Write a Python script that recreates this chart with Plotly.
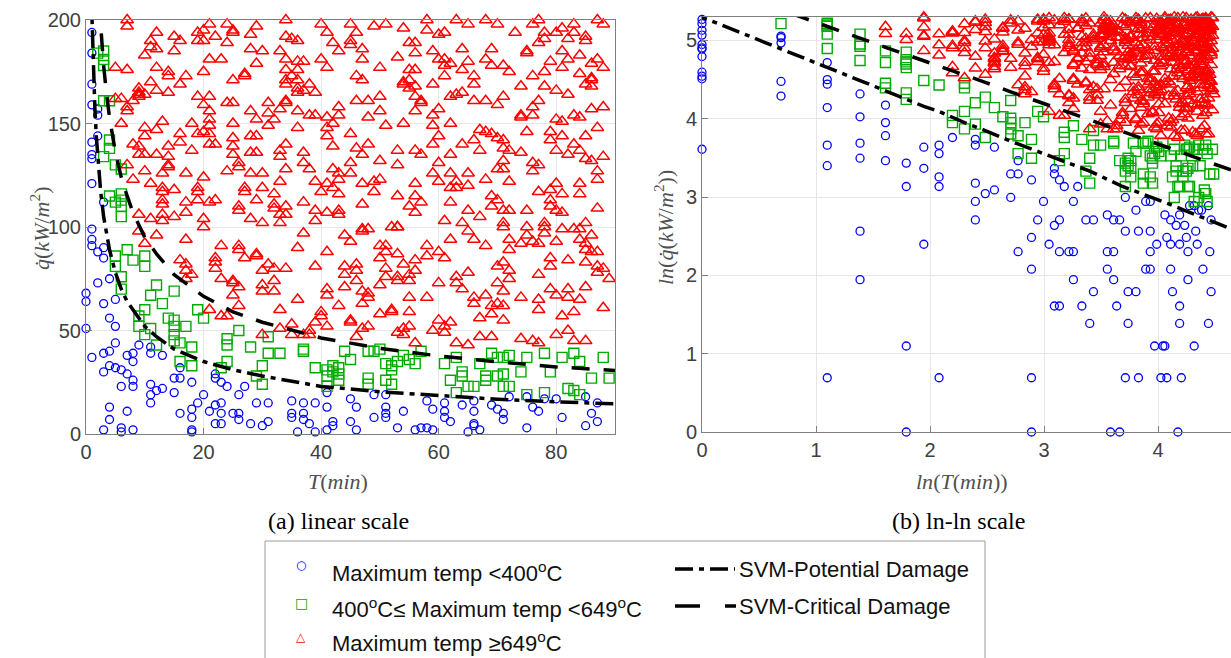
import numpy as np
import plotly.graph_objects as go

# ---------------- data (T in min, q in kW/m^2) ----------------
blue_points = [
    (1,194),(1,184),(1,169),(1,159),(2,157),(2,154),(1,141),(2,144),(1,135),(1,133),(1,121),(3,112),
    (1,99),(1,94),(1,91),(2,88),(3,90),(3,85),(2,73),(4,75),(3,63),(5,65),(0,68),(0,64),(4,56),(5,52),
    (0,51),(5,44),(3,39),(4,40),(1,37),(4,33),(5,32),(3,30),(6,31),(7,29),(7,38),(8,39),(8,35),(9,43),
    (11,42),(11,39),(13,38),(6,23),(8,26),(8,23),(11,24),(13,22),(12,21),(11,19),(11,15),(15,20),(15,27),
    (16,27),(16,32),(18,25),(22,29),(22,27),(23,25),(24,23),(20,19),(26,19),(27,23),(4,13),(7,11),(4,7),
    (3,2),(6,3),(6,1),(8,2),(16,10),(18,12),(19,15),(18,8),(18,2),(18,1),(21,11),(22,14),(23,15),(23,10),
    (22,5),(23,5),(25,10),(26,10),(26,7),(28,5),(29,15),(30,4),(31,15),(31,6),(35,16),(37,15),(39,15),
    (35,10),(35,8),(37,10),(37,7),(38,5),(36,1),(39,1),(41,20),
    (41,13),(42,6),(41,2),(42,4),(45,17),(46,13),(45,6),(46,2),(49,19),(51,19),(51,13),(51,10),(51,8),
    (49,8),(54,11),(53,3),(56,2),(57,3),(58,3),(59,2),(58,16),(59,12),(61,15),(61,11),(61,8),(62,6),
    (64,14),(66,16),(66,11),(66,5),(66,4),(65,1),(67,2),(69,14),(70,12),(71,10),(71,7),(72,18),(75,18),
    (75,3),(76,13),(77,11),(78,17),(80,17),(81,8),(85,18),(85,4),(86,10),(87,6),(87,15),
]

green_points = [
    (2,184),(3,185),(3,181),(3,178),(3,161),(4,161),(4,142),(4,138),(3,134),(5,130),(6,128),(4,115),
    (5,112),(6,116),(6,110),(6,113),(6,105),
    (5,86),(7,89),(8,84),(10,86),(10,81),(5,81),(6,76),(6,70),(12,72),(11,67),(13,63),(15,69),(10,60),
    (9,57),(9,52),(11,51),(10,48),(14,56),(15,55),(15,52),(15,48),(15,45),(17,52),(16,44),(12,43),(18,42),
    (16,35),(18,33),(19,60),(20,56),(26,50),(24,46),(24,43),(24,35),(28,42),(31,47),(31,39),(33,39),
    (30,33),(29,28),(30,24),(23,32),(37,41),(37,40),(39,32),(41,23),
    (44,40),(45,36),(48,40),(49,40),(50,41),(41,31),(42,33),(43,32),(42,30),(43,29),(43,26),(41,28),
    (48,27),(48,24),(51,34),(52,33),(52,31),(51,26),(52,24),(53,35),(55,36),(56,34),(54,38),(57,40),
    (61,34),(63,37),(62,26),(64,30),(64,28),(65,23),(66,23),(63,20),(67,34),(68,28),(68,26),(70,28),
    (71,29),(72,23),(69,39),(70,37),(71,37),(72,38),(75,37),(74,30),(78,39),(79,30),(81,37),(83,39),
    (84,35),(82,22),(83,21),(84,19),(86,27),(88,37),(89,27),(78,20),(75,19),(71,23),
]

red_points = [
    # T <= 41, q > 100
    (7,200),(7,197),(12,194),(11,190),(11,187),(12,186),(15,192),(16,190),(19,194),(20,195),(21,198),
    (19,190),(20,190),(22,192),(24,198),(25,195),(25,194),(24,189),(28,193),(29,197),(28,186),(30,185),
    (33,185),(34,200),(34,192),(35,191),(36,190),(34,181),(36,180),(37,180),(36,176),(40,198),(41,194),
    (10,183),(12,177),(15,185),(5,177),(7,176),(14,175),(14,173),(17,173),(16,169),(11,170),(12,166),
    (9,167),(9,165),(9,164),(14,165),(20,175),(23,181),(21,181),(25,171),(27,173),(27,174),(29,179),
    (34,176),(34,171),(35,173),(36,171),(34,169),(36,167),(36,165),(37,166),(39,165),(38,169),(40,181),
    (41,177),(5,162),(6,162),(7,158),(7,156),(8,161),(9,163),(10,164),(19,163),(21,163),(20,159),
    (21,156),(21,152),(21,149),(24,160),(25,160),(28,156),(29,152),(31,160),(31,155),(33,157),(34,161),
    (34,160),(36,156),(38,154),(39,154),(41,153),(6,150),(10,148),(10,144),(13,151),(12,147),(18,150),
    (19,145),(20,146),(21,145),(22,140),(25,150),(25,143),(25,139),(28,144),(29,144),(31,149),(32,152),
    (36,148),(41,148),(41,144),(8,140),(9,139),(9,135),(10,135),(12,135),(14,139),(14,134),(14,130),
    (16,145),(16,141),(18,137),(21,140),(25,135),(28,136),(29,136),(33,137),(33,134),(34,140),(37,136),
    (37,131),(38,128),(7,130),(8,123),(10,127),(11,121),(13,126),(14,129),(13,119),(13,117),(15,118),
    (17,126),(19,119),(19,117),(20,124),(24,127),(26,129),(26,131),(28,126),(30,126),(33,122),(27,119),
    (27,117),(30,119),(34,128),(39,122),(41,121),(40,117),(9,106),(11,104),(13,106),(13,103),(13,113),
    (13,111),(15,105),(17,112),(17,107),(19,113),(21,112),(22,113),(20,104),(26,108),(26,110),(28,104),
    (29,113),(32,116),(32,111),(32,109),(33,106),(34,106),(34,110),(37,112),(39,108),(41,107),(39,103),
    (30,102),(33,102),
    # T > 41, q > 100
    (45,198),(46,194),(49,197),(51,198),(54,196),(58,200),(58,195),(60,193),(61,194),(63,200),(65,198),
    (68,200),(70,198),(73,194),(76,198),(77,200),(78,194),(78,191),(77,189),(80,194),(81,196),(83,198),
    (83,194),(82,191),(85,192),(85,190),(87,200),(88,198),(42,189),(43,185),(45,188),(45,190),(47,186),
    (47,181),(53,182),(55,189),(56,189),(56,184),(59,185),(60,181),(61,181),(61,178),(62,179),(64,186),
    (64,176),(65,180),(66,173),(68,181),(69,186),(69,178),(71,178),(72,175),(75,184),(75,185),(76,173),
    (78,175),(79,180),(81,185),(82,181),(81,177),(84,183),(84,174),(86,179),(87,181),(88,177),(86,172),
    (46,173),(47,171),(50,177),(55,176),(55,171),(56,176),(55,167),(54,169),(54,170),(56,168),(56,163),
    (57,161),(56,156),(57,160),(59,169),(61,173),(62,163),(63,164),(64,165),(66,169),(66,161),(68,161),
    (70,159),(71,163),(74,168),(77,161),(76,158),(78,168),(80,166),(82,164),(86,171),(86,168),(85,169),
    (86,157),(88,158),(43,158),(43,154),(46,161),(48,161),(50,163),(50,156),(48,153),(51,149),(54,150),
    (42,150),(45,145),(59,154),(60,157),(62,150),(59,149),(60,144),(59,140),(74,154),(74,153),(76,154),
    (75,146),(80,152),(81,151),(83,154),(84,153),(87,148),(85,144),(67,147),(68,146),(69,145),(64,140),
    (66,142),(67,137),(70,143),(71,142),(71,138),(72,137),(74,136),(79,146),(79,142),(81,144),(83,140),
    (80,137),(82,135),(84,137),(85,133),(86,132),(88,134),(87,127),(87,123),(42,139),(46,138),(48,140),
    (47,135),(50,132),(53,137),(53,130),(56,137),(57,135),(62,135),(60,131),(42,128),(43,126),(45,131),
    (45,126),(43,123),(47,121),(49,122),(50,123),(56,121),(59,126),(60,122),(62,126),(63,122),(65,126),
    (62,119),(63,119),(65,120),(68,123),(70,128),(71,132),(71,128),(72,122),(76,131),(77,130),(76,127),
    (80,121),(79,118),(81,116),(84,121),(84,116),(42,119),(43,116),(49,117),(47,111),(53,115),(55,110),
    (56,115),(57,112),(56,107),(62,112),(65,108),(67,105),(69,115),(70,113),(69,110),(71,108),(72,108),
    (75,108),(77,117),(79,113),(80,108),(81,107),(79,110),(87,109),(43,108),(43,106),(61,103),(64,102),
    (71,102),(78,102),(85,102),(47,99),(53,100),
    # T <= 41, q <= 100
    (9,98),(12,96),(10,92),(17,94),(20,100),(23,91),(22,85),(22,83),(22,80),(16,84),(17,82),(17,79),
    (18,77),(17,75),(23,75),(25,73),(25,74),(26,71),(25,67),(26,62),(21,60),(23,57),(24,57),(26,91),
    (26,89),(27,85),(29,86),(29,87),(31,82),(30,79),(32,80),(32,74),(30,72),(30,69),(32,69),(34,80),
    (36,90),(37,97),(39,81),(36,65),(33,60),(33,51),(35,53),(37,48),(38,50),(39,54),(40,59),(40,57),
    (41,88),(41,70),(41,67),(30,48),(35,48),(38,48),
    # T > 41, q <= 100
    (44,96),(45,93),(47,98),(48,99),(52,100),(53,100),(50,91),(51,91),(51,88),(50,85),(53,87),(54,82),
    (56,84),(58,91),(58,86),(60,88),(61,85),(62,94),(65,98),(66,94),(68,91),(71,100),(72,94),(74,92),
    (72,89),(75,100),(75,96),(76,93),(77,92),(78,100),(78,97),(80,93),(81,99),(83,99),(84,99),(84,94),
    (85,92),(86,96),(85,89),(86,88),(87,88),(79,85),(82,84),(85,83),(87,81),(87,78),(88,80),(89,75),
    (79,81),(77,77),(44,81),(46,82),(46,79),(44,77),(46,74),(44,71),(50,72),(51,80),(51,76),(53,76),
    (53,74),(55,77),(56,79),(55,74),(47,69),(48,66),(48,68),(47,63),(55,66),(52,60),(52,59),(55,59),
    (50,58),(43,62),(41,52),(45,55),(45,54),(47,51),(48,52),(46,47),(53,49),(54,51),(55,52),(54,48),
    (56,44),(58,66),(60,73),(63,76),(63,73),(64,70),(65,78),(66,66),(68,67),(66,63),(69,62),(70,63),
    (71,62),(70,73),(71,69),(71,83),(70,81),(72,79),(72,75),(74,66),(77,65),(77,60),(79,70),(80,67),
    (82,70),(82,66),(84,65),(83,59),(81,57),(88,61),(85,71),(60,55),(62,54),(61,49),(59,50),(61,52),
    (67,56),(69,58),(71,55),(67,47),(63,44),(65,43),(69,47),(74,46),(76,45),(77,44),(80,48),(82,50),
    (83,45),(85,45),
]

# SVM boundaries
potential_T = [0.9, 1, 1.25, 1.5, 1.75, 2, 2.5, 3, 3.5, 4, 5, 6, 7, 8, 10, 12, 15, 20, 25, 30, 40, 50, 60, 70, 80, 90, 105]
potential_q = [212, 200, 176, 158, 144, 133, 117, 105, 96, 89, 78, 70, 64, 60, 52, 47, 41, 35, 31, 28, 23, 20.4, 18.4, 16.8, 15.5, 14.5, 13.3]
critical_T = [2.2, 2.5, 3, 3.5, 4, 5, 6, 7, 8, 10, 12, 15, 20, 25, 30, 40, 50, 60, 70, 80, 90, 105]
critical_q = [209, 195, 178, 164, 153, 136, 124, 115, 107, 95, 87, 77, 66.5, 59, 54, 46.4, 41.4, 37.7, 34.8, 32.4, 30.5, 28.2]

# ---------------- figure ----------------
W, H = 1231, 658
def px(x): return x / W
def py(y): return 1 - y / H

BLUE = "rgb(0,0,255)"
GREEN = "rgb(0,170,0)"
RED = "rgb(255,0,0)"

series = [
    (blue_points, "circle-open", BLUE, 8, 1.3, "Maximum temp <400°C"),
    (green_points, "square-open", GREEN, 10, 1.4, "400°C≤ Maximum temp <649°C"),
    (red_points, "triangle-up-open", RED, 11, 1.5, "Maximum temp ≥649°C"),
]

fig = go.Figure()
for pts, sym, col, size, lw, name in series:
    T = np.array([p[0] for p in pts], dtype=float)
    Q = np.array([p[1] for p in pts], dtype=float)
    mk = dict(symbol=sym, size=size, color=col, line=dict(color=col, width=lw))
    fig.add_trace(go.Scatter(x=T, y=Q, mode="markers", name=name, showlegend=False,
                             cliponaxis=False, marker=mk, xaxis="x", yaxis="y"))
    ok = (T > 0) & (Q > 0)
    fig.add_trace(go.Scatter(x=np.log(T[ok]), y=np.log(Q[ok]), mode="markers", name=name, showlegend=False,
                             cliponaxis=False, marker=mk, xaxis="x2", yaxis="y2"))

POT_DASH = "18px,6px,5px,6px"
CRIT_DASH = "18px,14px"
for Ts, Qs, dash, name in [(potential_T, potential_q, POT_DASH, "SVM-Potential Damage"),
                           (critical_T, critical_q, CRIT_DASH, "SVM-Critical Damage")]:
    Ts = np.array(Ts, float); Qs = np.array(Qs, float)
    fig.add_trace(go.Scatter(x=Ts, y=Qs, mode="lines", name=name, showlegend=False,
                             line=dict(color="black", width=3.5, dash=dash), xaxis="x", yaxis="y"))
    fig.add_trace(go.Scatter(x=np.log(Ts), y=np.log(Qs), mode="lines", name=name, showlegend=False,
                             line=dict(color="black", width=3.5, dash=dash), xaxis="x2", yaxis="y2"))

axis_common = dict(showline=True, linecolor="#7f7f7f", linewidth=1, ticks="inside", ticklen=6,
                   tickcolor="#7f7f7f", showgrid=True, gridcolor="#e6e6e6", gridwidth=1, zeroline=False,
                   tickfont=dict(family="Liberation Sans, Arial, sans-serif", size=20, color="#404040"))

fig.update_layout(
    width=W, height=H, margin=dict(l=0, r=0, t=0, b=0, autoexpand=False),
    paper_bgcolor="white", plot_bgcolor="white", showlegend=False,
    xaxis=dict(domain=[px(86), px(615)], range=[0, 90], tickvals=[0, 20, 40, 60, 80], mirror=True,
               anchor="y", automargin=False, **axis_common),
    yaxis=dict(domain=[py(434), py(20)], range=[0, 200], tickvals=[0, 50, 100, 150, 200], mirror=True,
               anchor="x", automargin=False, **axis_common),
    xaxis2=dict(domain=[px(702), 1.0], range=[0, (W - 702) / 114.0], tickvals=[0, 1, 2, 3, 4], mirror=True,
                anchor="y2", automargin=False, **axis_common),
    yaxis2=dict(domain=[py(432), py(17)], range=[0, 5.3], tickvals=[0, 1, 2, 3, 4, 5], mirror=False,
                anchor="x2", automargin=False, **axis_common),
)

title_font = dict(family="Liberation Serif, Times New Roman, serif", size=22, color="#505050")
qdot = "q\u0307"
annotations = [
    dict(x=px(338), y=py(481), text="<i>T</i>(<i>min</i>)", font=title_font),
    dict(x=px(40), y=py(228), text=f"<i>{qdot}</i>(<i>kW</i>/<i>m</i><sup>2</sup>)", font=title_font, textangle=-90),
    dict(x=px(962), y=py(481), text="<i>ln</i>(<i>T</i>(<i>min</i>))", font=title_font),
    dict(x=px(664), y=py(228), text=f"<i>ln</i>(<i>{qdot}</i>(<i>kW</i>/<i>m</i><sup>2</sup>))", font=title_font, textangle=-90),
    dict(x=px(338), y=py(521), text="(a) linear scale",
         font=dict(family="Liberation Serif, Times New Roman, serif", size=24, color="black")),
    dict(x=px(958), y=py(521), text="(b) ln-ln scale",
         font=dict(family="Liberation Serif, Times New Roman, serif", size=24, color="black")),
]

leg_font = dict(family="Liberation Sans, Arial, sans-serif", size=22, color="#111111")
legend_rows = [
    (px(330), py(572), "Maximum temp &lt;400<sup>o</sup>C"),
    (px(330), py(608), "400<sup>o</sup>C≤ Maximum temp &lt;649<sup>o</sup>C"),
    (px(330), py(642), "Maximum temp ≥649<sup>o</sup>C"),
    (px(737), py(569), "SVM-Potential Damage"),
    (px(737), py(606), "SVM-Critical Damage"),
]
for x, y, t in legend_rows:
    annotations.append(dict(x=x, y=y, text=t, xanchor="left", font=leg_font))
for y, glyph, col, sz in [(565, "○", BLUE, 12), (603, "□", GREEN, 14), (637, "△", RED, 12)]:
    annotations.append(dict(x=px(301), y=py(y), text=glyph, font=dict(family="DejaVu Sans", size=sz, color=col)))

for a in annotations:
    a.setdefault("xref", "paper"); a.setdefault("yref", "paper"); a.setdefault("showarrow", False)
    a.setdefault("xanchor", "center"); a.setdefault("yanchor", "middle")
fig.update_layout(annotations=annotations)

shapes = [
    dict(type="rect", xref="paper", yref="paper", x0=px(265), x1=px(985), y0=py(662), y1=py(541),
         line=dict(color="#9a9a9a", width=1), fillcolor="rgba(0,0,0,0)", layer="above"),
    dict(type="line", xref="paper", yref="paper", x0=px(675), x1=px(735), y0=py(569), y1=py(569),
         line=dict(color="black", width=3.5, dash=POT_DASH)),
    dict(type="line", xref="paper", yref="paper", x0=px(675), x1=px(736), y0=py(606), y1=py(606),
         line=dict(color="black", width=3.5, dash="25px,25px")),
]
fig.update_layout(shapes=shapes)

fig.write_html("out.html", config={"displayModeBar": False},
               post_script="document.body.style.margin='0px';document.body.style.overflow='hidden';")
